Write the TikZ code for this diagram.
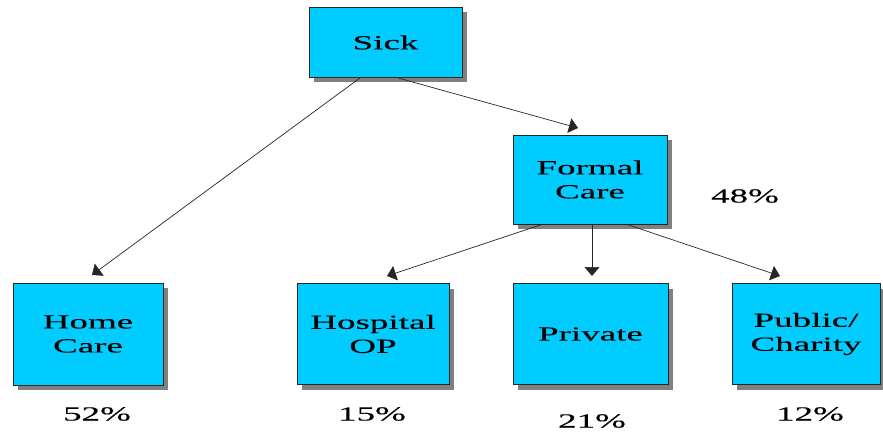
\documentclass[tikz,border=0pt]{standalone}
\usepackage{fontspec}
\newfontfamily\widefont[FakeStretch=1.85,FakeBold=0.25]{Liberation Serif}
\usetikzlibrary{shadows,arrows.meta}
\definecolor{boxcyan}{HTML}{00CCFF}
\definecolor{shadowgray}{HTML}{808080}
\tikzset{
  box/.style={draw=black!85, line width=0.9pt, fill=boxcyan, rectangle, align=center,
    inner sep=0pt, font=\widefont\fontsize{20}{24}\selectfont,
    drop shadow={shadow xshift=5pt, shadow yshift=-5pt, fill=shadowgray, opacity=1}},
  pct/.style={font=\widefont\fontsize{20}{24}\selectfont, inner sep=0pt},
  arr/.style={draw=black!85, line width=0.7pt, -{Triangle[width=15pt,length=9pt]}}
}
\begin{document}
\begin{tikzpicture}[x=1pt,y=-1pt]
\useasboundingbox (0,0) rectangle (883,433);
\node[box, minimum width=153pt, minimum height=70pt] (sick) at (385.5,42.5) {Sick};
\node[box, minimum width=154pt, minimum height=89pt] (formal) at (590,179.5) {Formal\\Care};
\node[box, minimum width=150pt, minimum height=102pt] (home) at (88,334) {Home\\Care};
\node[box, minimum width=152pt, minimum height=101pt] (hosp) at (373,334) {Hospital\\OP};
\node[box, minimum width=155pt, minimum height=101pt] (priv) at (590.5,334) {Private};
\node[box, minimum width=148pt, minimum height=101pt] (pub) at (806,334) {Public/\\Charity};
\node[pct] (p48) at (745,196) {48\%};
\node[pct] (p52) at (97,414) {52\%};
\node[pct] (p15) at (372,414) {15\%};
\node[pct] (p21) at (592,421) {21\%};
\node[pct] (p12) at (810,414) {12\%};
\coordinate (s1) at ([xshift=-25.5pt]sick.south);
\coordinate (s2) at ([xshift=12.5pt]sick.south);
\coordinate (ehome) at (92,275);
\coordinate (eformal) at (578,128);
\coordinate (f1) at ([xshift=-48pt]formal.south);
\coordinate (f2) at ([xshift=2pt]formal.south);
\coordinate (f3) at ([xshift=37pt]formal.south);
\coordinate (ehosp) at (387,276);
\coordinate (epriv) at (592,276);
\coordinate (epub) at (780,276);
\draw[arr] (s1) -- (ehome);
\draw[arr] (s2) -- (eformal);
\draw[arr] (f1) -- (ehosp);
\draw[arr] (f2) -- (epriv);
\draw[arr] (f3) -- (epub);
\end{tikzpicture}
\end{document}
